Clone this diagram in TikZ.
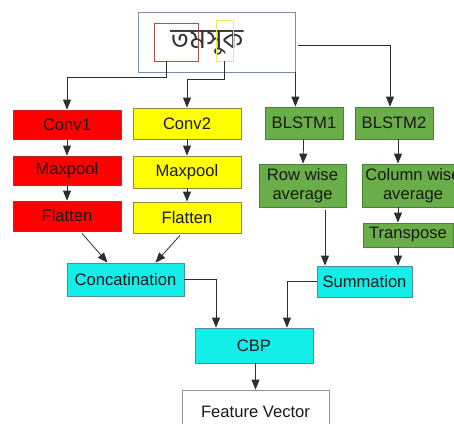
\documentclass[tikz,border=0pt]{standalone}
\usepackage{fontspec}
\setmainfont{Liberation Sans}
\newfontfamily\bengfont[Script=Bengali]{Hind Siliguri}
\usetikzlibrary{arrows.meta}
\definecolor{cred}{RGB}{255,0,0}
\definecolor{credb}{RGB}{190,40,40}
\definecolor{cyel}{RGB}{255,255,0}
\definecolor{cyelb}{RGB}{140,140,60}
\definecolor{cgrn}{RGB}{106,174,74}
\definecolor{cgrnb}{RGB}{72,130,52}
\definecolor{ccyan}{RGB}{20,238,232}
\definecolor{ccyanb}{RGB}{80,140,160}
\definecolor{ctext}{RGB}{25,25,25}
\definecolor{cline}{RGB}{45,45,45}
\definecolor{cimg}{RGB}{120,140,165}
\definecolor{cfv}{RGB}{150,150,150}
\tikzset{
  blk/.style={draw, line width=0.8pt, inner sep=0pt, align=center, text=ctext,
    font=\fontsize{16.6}{19}\selectfont},
  redbox/.style={blk, fill=cred, draw=credb},
  yelbox/.style={blk, fill=cyel, draw=cyelb},
  grnbox/.style={blk, fill=cgrn, draw=cgrnb},
  cyanbox/.style={blk, fill=ccyan, draw=ccyanb},
  arr/.style={draw=cline, line width=0.8pt, -{Triangle[length=10pt,width=8pt]}},
  ln/.style={draw=cline, line width=0.8pt}
}
\begin{document}
\begin{tikzpicture}[x=1pt,y=-1pt]
\useasboundingbox (0,0) rectangle (454,423);
\clip (0,0) rectangle (454,423);
% input image
\node[draw=cimg, line width=0.8pt, minimum width=157pt, minimum height=60pt, inner sep=0pt] (img) at (216.5,42) {};
\node[text=black!80, font=\bengfont\fontsize{28}{28}\selectfont, inner sep=0pt] (word) at (207,43) {তমসুক};
\node[draw={rgb,255:red,165;green,85;blue,75}, line width=0.8pt, minimum width=44pt, minimum height=38pt, inner sep=0pt] (redb) at (176,42) {};
\node[draw={rgb,255:red,238;green,238;blue,90}, line width=0.8pt, minimum width=17pt, minimum height=41pt, inner sep=0pt] (yelb) at (224.5,40.5) {};
% CNN branch 1
\node[redbox, minimum width=108pt, minimum height=29pt] (conv1) at (67,124.5) {Conv1};
\node[redbox, minimum width=108pt, minimum height=29pt] (max1) at (67,170.5) {Maxpool};
\node[redbox, minimum width=108pt, minimum height=30pt] (flat1) at (67,216) {Flatten};
% CNN branch 2
\node[yelbox, minimum width=108pt, minimum height=31pt] (conv2) at (187,123.5) {Conv2};
\node[yelbox, minimum width=108pt, minimum height=32pt] (max2) at (187,172) {Maxpool};
\node[yelbox, minimum width=108pt, minimum height=31pt] (flat2) at (187,217.5) {Flatten};
% BLSTM branches
\node[grnbox, minimum width=78pt, minimum height=32pt] (blstm1) at (304,123) {BLSTM1};
\node[grnbox, minimum width=78pt, minimum height=32pt] (blstm2) at (394,123) {BLSTM2};
\node[grnbox, minimum width=87pt, minimum height=43pt] (row) at (302.5,185.5) {Row wise\\average};
\node[grnbox, minimum width=102pt, minimum height=43pt] (col) at (413,185.5) {Column wise\\average};
\node[grnbox, minimum width=90pt, minimum height=24pt] (trans) at (408,235) {Transpose};
% merges
\node[cyanbox, minimum width=117pt, minimum height=33pt] (concat) at (125.5,279.5) {Concatination};
\node[cyanbox, minimum width=95pt, minimum height=31pt] (summ) at (364.5,281.5) {Summation};
\node[cyanbox, minimum width=118pt, minimum height=35pt] (cbp) at (254,345.5) {CBP};
\node[blk, draw=cfv, fill=white, minimum width=147pt, minimum height=44pt] (fv) at (255.5,412) {Feature Vector};
% coordinates
\coordinate (r1) at (166,77);
\coordinate (y1) at (187,79);
\coordinate (b2) at (390,45);
\coordinate (cx) at (398,0);
\coordinate (rx) at (325,210);
% connectors from image
\draw[arr] (redb.south -| r1) -- (r1) -| (conv1.north);
\draw[arr] (yelb.south) |- (y1) -- (conv2.north);
\draw[arr] (img.south east) -- (img.south east |- blstm1.north);
\draw[ln] ([xshift=3pt]img.east |- b2) -- (b2);
\draw[arr] (b2) -- (b2 |- blstm2.north);
% CNN chains
\draw[arr] (conv1) -- (max1);
\draw[arr] (max1) -- (flat1);
\draw[arr] (conv2) -- (max2);
\draw[arr] (max2) -- (flat2);
\draw[arr] ([xshift=15pt,yshift=-2pt]flat1.south) -- ([xshift=-18pt]concat.north);
\draw[arr] ([xshift=-7pt,yshift=-2pt]flat2.south) -- ([xshift=30pt]concat.north);
% BLSTM chains
\draw[arr] (blstm1) -- (row);
\draw[arr] (blstm2.south -| cx) -- (col.north -| cx);
\draw[arr] (col.south -| cx) -- (trans.north -| cx);
\draw[arr] (trans.south -| cx) -- (summ.north -| cx);
\draw[arr] (rx) -- (summ.north -| rx);
% to CBP
\draw[arr] (concat.east) -| ([xshift=-38pt]cbp.north);
\draw[arr] (summ.west) -| ([xshift=33pt]cbp.north);
\draw[arr] (cbp.south -| fv.north) -- (fv.north);
\end{tikzpicture}
\end{document}
